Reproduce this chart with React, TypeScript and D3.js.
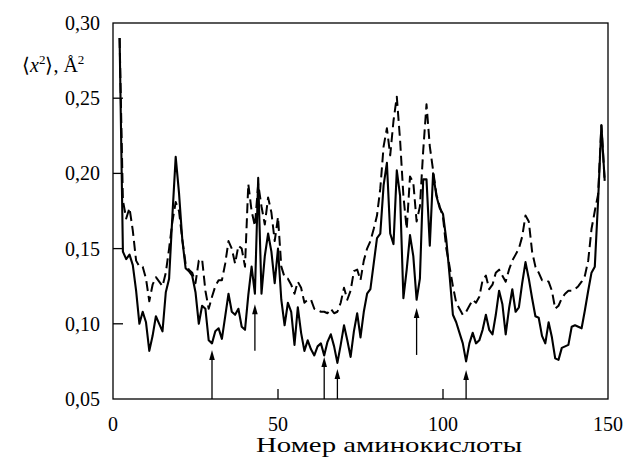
import React from "react";
import * as d3 from "d3";

const FIRST_RESIDUE = 2;
const solidValues = [
  0.290, 0.148, 0.143, 0.146, 0.139, 0.122, 0.100, 0.108, 0.101, 0.082,
  0.092, 0.105, 0.100, 0.095, 0.121, 0.130, 0.172, 0.211, 0.187, 0.156,
  0.137, 0.135, 0.132, 0.121, 0.100, 0.112, 0.110, 0.089, 0.087, 0.095,
  0.097, 0.090, 0.105, 0.120, 0.108, 0.106, 0.110, 0.098, 0.096, 0.119,
  0.138, 0.120, 0.197, 0.120, 0.145, 0.160, 0.148, 0.127, 0.150, 0.116,
  0.099, 0.114, 0.108, 0.086, 0.111, 0.094, 0.082, 0.089, 0.083, 0.079,
  0.085, 0.087, 0.079, 0.088, 0.093, 0.085, 0.074, 0.086, 0.099, 0.089,
  0.078, 0.095, 0.107, 0.091, 0.108, 0.120, 0.123, 0.140, 0.157, 0.160,
  0.192, 0.207, 0.160, 0.153, 0.202, 0.185, 0.117, 0.136, 0.159, 0.145,
  0.116, 0.130, 0.196, 0.196, 0.152, 0.200, 0.185, 0.177, 0.173, 0.156,
  0.132, 0.106, 0.101, 0.094, 0.087, 0.075, 0.087, 0.094, 0.087, 0.089,
  0.096, 0.106, 0.096, 0.093, 0.106, 0.122, 0.113, 0.093, 0.110, 0.123,
  0.108, 0.111, 0.127, 0.141, 0.130, 0.117, 0.105, 0.104, 0.092, 0.087,
  0.101, 0.091, 0.077, 0.076, 0.084, 0.085, 0.086, 0.098, 0.099, 0.098,
  0.097, 0.109, 0.122, 0.134, 0.138, 0.182, 0.232, 0.195,
];
const dashedValues = [
  0.290, 0.182, 0.170, 0.177, 0.162, 0.142, 0.138, 0.138, 0.130, 0.115,
  0.126, 0.131, 0.128, 0.125, 0.134, 0.150, 0.168, 0.181, 0.175, 0.156,
  0.140, 0.136, 0.134, 0.127, 0.142, 0.143, 0.122, 0.110, 0.118, 0.125,
  0.129, 0.129, 0.140, 0.155, 0.150, 0.140, 0.152, 0.150, 0.138, 0.193,
  0.175, 0.165, 0.193, 0.178, 0.166, 0.184, 0.174, 0.155, 0.171, 0.138,
  0.131, 0.130, 0.126, 0.120, 0.128, 0.124, 0.114, 0.116, 0.116, 0.110,
  0.109, 0.108, 0.108, 0.107, 0.110, 0.107, 0.108, 0.114, 0.124, 0.116,
  0.122, 0.135, 0.136, 0.129, 0.142, 0.150, 0.155, 0.163, 0.172, 0.190,
  0.218, 0.230, 0.212, 0.235, 0.251, 0.222, 0.185, 0.163, 0.198, 0.194,
  0.168, 0.178, 0.215, 0.246, 0.218, 0.202, 0.186, 0.178, 0.171, 0.150,
  0.138, 0.125, 0.114, 0.110, 0.106, 0.108, 0.112, 0.116, 0.114, 0.118,
  0.129, 0.132, 0.123, 0.126, 0.134, 0.136, 0.132, 0.128, 0.136, 0.142,
  0.146, 0.150, 0.158, 0.172, 0.168, 0.148, 0.138, 0.134, 0.129, 0.129,
  0.128, 0.122, 0.110, 0.112, 0.117, 0.120, 0.122, 0.122, 0.123, 0.125,
  0.128, 0.132, 0.142, 0.163, 0.175, 0.186, 0.232, 0.195,
];

const xTicks = [0, 50, 100, 150];
const yTicks = [0.05, 0.10, 0.15, 0.20, 0.25, 0.30];
const arrowResidues = [30, 43, 64, 68, 92, 107];
const arrowBases = [0.05, 0.082, 0.05, 0.05, 0.0793, 0.05];
const arrowTips = [0.0826, 0.113, 0.078, 0.070, 0.1105, 0.0693];

const xTitle = "Номер аминокислоты";
const FONT = "'Liberation Serif', 'Times New Roman', serif";

export default function App() {
  const W = 635, H = 462;
  const left = 113, right = 608, top = 23, bottom = 399;
  const x = d3.scaleLinear().domain([0, 150]).range([left, right]);
  const y = d3.scaleLinear().domain([0.05, 0.30]).range([bottom, top]);

  const toPts = (vals: number[]) => vals.map((v, i) => [FIRST_RESIDUE + i, v] as [number, number]);
  const line = d3.line<[number, number]>().x(d => x(d[0])).y(d => y(d[1]));

  const fmt = (v: number) => d3.format(".2f")(v).replace(".", ",");

  return (
    <svg width={W} height={H} style={{ position: "absolute", left: 0, top: 0, background: "#fff" }}
      fontFamily={FONT}>
      <rect x={0} y={0} width={W} height={H} fill="#fff" />
      {/* frame */}
      <rect x={left} y={top} width={right - left} height={bottom - top} fill="none" stroke="#000" strokeWidth={1.3} />
      {/* y ticks */}
      {yTicks.map(t => (
        <g key={"y" + t}>
          {t > 0.05 && t < 0.30 && (
            <line x1={left} x2={left + 10} y1={y(t)} y2={y(t)} stroke="#000" strokeWidth={1.3} />
          )}
          <text x={100} y={y(t) + 7} textAnchor="end" fontSize={20}>{fmt(t)}</text>
        </g>
      ))}
      {/* x ticks */}
      {xTicks.map(t => (
        <g key={"x" + t}>
          {t > 0 && t < 150 && (
            <line x1={x(t)} x2={x(t)} y1={bottom} y2={bottom - 10} stroke="#000" strokeWidth={1.3} />
          )}
          <text x={x(t)} y={431} textAnchor="middle" fontSize={20}>{t}</text>
        </g>
      ))}
      {/* series */}
      <path d={line(toPts(dashedValues)) || ""} fill="none" stroke="#000" strokeWidth={2}
        strokeDasharray="10,5" strokeLinejoin="round" />
      <path d={line(toPts(solidValues)) || ""} fill="none" stroke="#000" strokeWidth={2.1}
        strokeLinejoin="round" />
      {/* arrows */}
      {arrowResidues.map((r, i) => {
        const ax = x(r), yb = y(arrowBases[i]), yt = y(arrowTips[i]);
        return (
          <g key={"a" + i}>
            <line x1={ax} x2={ax} y1={yb} y2={yt + 6} stroke="#000" strokeWidth={1.3} />
            <path d={`M${ax},${yt} L${ax - 2.8},${yt + 10} L${ax + 2.8},${yt + 10} Z`} fill="#000" />
          </g>
        );
      })}
      {/* y label */}
      <text x={22} y={72} fontSize={20}>
        <tspan>⟨</tspan>
        <tspan fontStyle="italic">x</tspan>
        <tspan dy={-8} fontSize={13}>2</tspan>
        <tspan dy={8}>⟩, Å</tspan>
        <tspan dy={-8} fontSize={13}>2</tspan>
      </text>
      {/* x title */}
      <text x={256} y={452} fontSize={21} textLength={266} lengthAdjust="spacingAndGlyphs">{xTitle}</text>
    </svg>
  );
}
